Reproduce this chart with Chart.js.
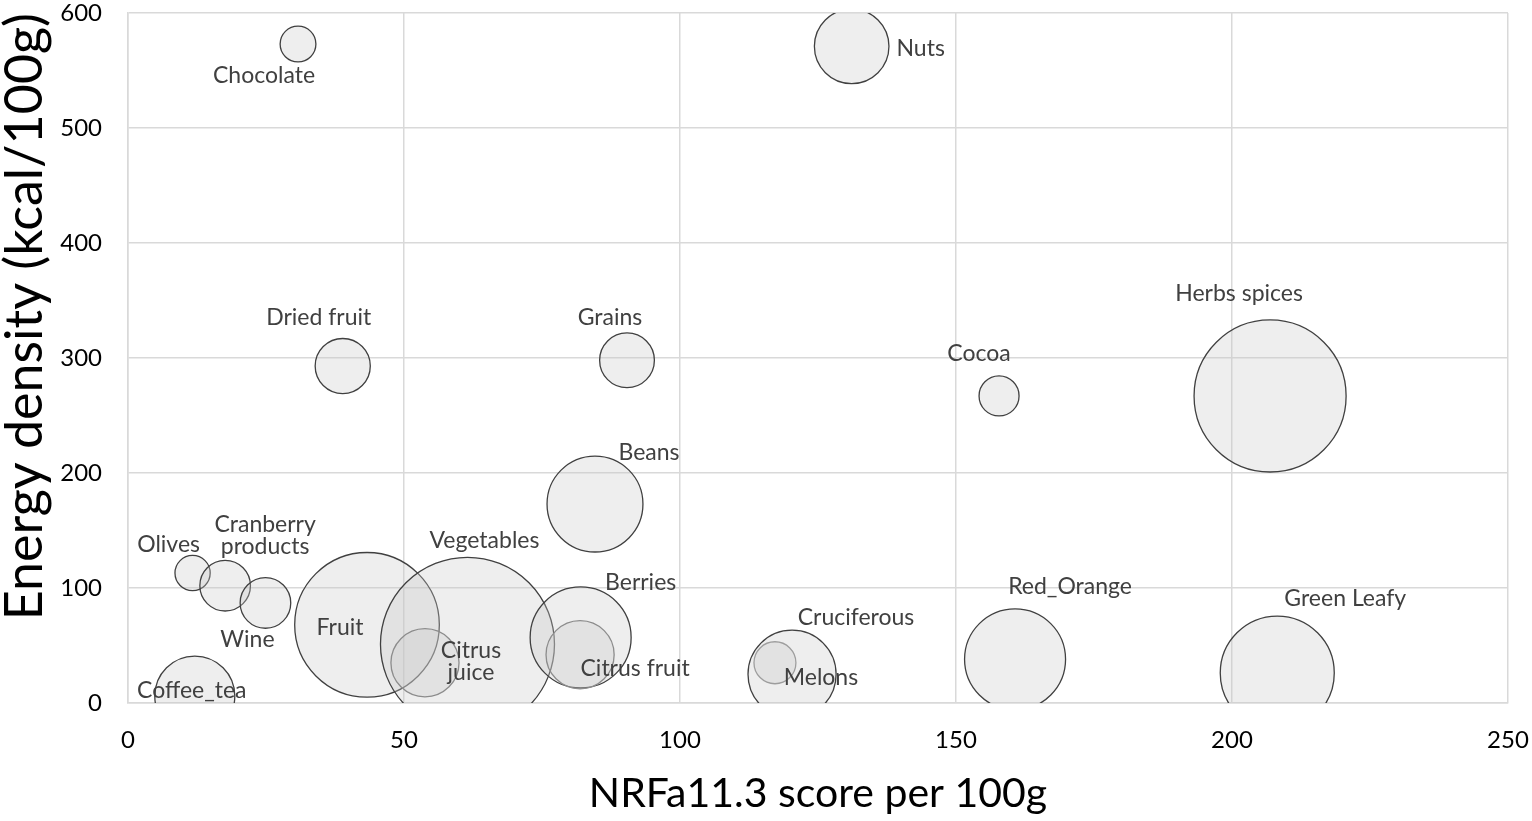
<!DOCTYPE html>
<html>
<head>
<meta charset="utf-8">
<script src="https://cdn.jsdelivr.net/npm/chart.js@4.4.1/dist/chart.umd.min.js"></script>
<style>
  html, body { margin: 0; padding: 0; background: #fff; }
  #wrap { width: 1532px; height: 821px; }
</style>
</head>
<body>
<div id="wrap"><canvas id="nrf"></canvas></div>
<script>
// food groups
const foods = ['Chocolate', 'Nuts', 'Dried fruit', 'Grains', 'Cocoa', 'Herbs spices', 'Beans',
    'Olives', 'Cranberry products', 'Wine', 'Fruit', 'Vegetables', 'Citrus juice', 'Berries',
    'Citrus fruit', 'Coffee_tea', 'Melons', 'Cruciferous', 'Red_Orange', 'Green Leafy'];
// NRFa11.3 score per 100g
const nrfScore = [30.8, 131.1, 38.9, 90.4, 157.8, 206.9, 84.6,
    11.7, 17.6, 24.9, 43.3, 61.5, 53.8, 82.0,
    81.9, 12.1, 117.2, 120.3, 160.7, 208.2];
// energy density kcal/100g
const energy = [573, 571, 293, 298, 267, 267, 173,
    113, 102, 87, 68, 51, 35, 57,
    42, 6, 35, 25, 38, 26];
// bubble size value (area)
const bubbleSize = [3.2, 13.9, 7.6, 7.5, 4.0, 57.8, 23.0,
    3.1, 6.4, 6.4, 52.3, 75.7, 11.6, 25.5,
    11.6, 16.0, 4.4, 19.4, 25.5, 32.5];

const xTicks = [0, 50, 100, 150, 200, 250];
const yTicks = [0, 100, 200, 300, 400, 500, 600];

// where each label sits relative to its bubble (px)
const labelOffset = {
    'Chocolate': [-34, 32], 'Nuts': [69, 2], 'Dried fruit': [-24, -48], 'Grains': [-17, -43],
    'Cocoa': [-20, -42], 'Herbs spices': [-31, -102], 'Beans': [54, -51], 'Olives': [-24, -28],
    'Cranberry products': [40, -50], 'Wine': [-18, 37], 'Fruit': [-27, 3], 'Vegetables': [17, -104],
    'Citrus juice': [46, -1], 'Berries': [60, -55], 'Citrus fruit': [55, 14], 'Coffee_tea': [-3, -6],
    'Melons': [46, 15], 'Cruciferous': [64, -57], 'Red_Orange': [55, -73], 'Green Leafy': [68, -75]
};
const twoLines = { 'Cranberry products': ['Cranberry', 'products'], 'Citrus juice': ['Citrus', 'juice'] };
const lightEdge = ['Citrus juice', 'Citrus fruit', 'Melons'];

const points = foods.map((f, i) => ({ x: nrfScore[i], y: energy[i], r: 10 * Math.sqrt(bubbleSize[i]) }));

const bubbleLabels = {
    id: 'bubbleLabels',
    afterDatasetsDraw(chart) {
        const ctx = chart.ctx;
        const meta = chart.getDatasetMeta(0);
        ctx.save();
        ctx.font = '23px Lato';
        ctx.fillStyle = '#404040';
        ctx.textAlign = 'center';
        ctx.textBaseline = 'middle';
        meta.data.forEach((pt, i) => {
            const name = foods[i];
            const off = labelOffset[name];
            const lines = twoLines[name] || [name];
            const lh = 22;
            lines.forEach((ln, k) => {
                const dy = (k - (lines.length - 1) / 2) * lh;
                ctx.fillText(ln, pt.x + off[0], pt.y + off[1] + dy);
            });
        });
        ctx.restore();
    }
};

// no extra room for first/last tick labels, the plot box is fixed
function noPad(s) {
    s.paddingTop = 0; s.paddingBottom = 0; s.paddingLeft = 0; s.paddingRight = 0;
}

const chart = new Chart(document.getElementById('nrf'), {
    type: 'bubble',
    data: {
        datasets: [{
            data: points,
            backgroundColor: 'rgba(200,200,200,0.3)',
            borderColor: foods.map(f => lightEdge.includes(f) ? '#8c8c8c' : '#404040'),
            borderWidth: 1.3,
            hoverRadius: 0,
            hoverBorderWidth: 1.3
        }]
    },
    options: {
        responsive: true,
        maintainAspectRatio: false,
        animation: false,
        events: [],
        layout: { autoPadding: false, padding: { top: 13, right: 24, left: 0, bottom: 0 } },
        plugins: { legend: { display: false }, tooltip: { enabled: false } },
        scales: {
            x: {
                type: 'linear',
                min: 0, max: 250,
                afterBuildTicks: s => { s.ticks = xTicks.map(v => ({ value: v })); },
                afterFit: s => { s.height = 118; noPad(s); },
                grid: { color: '#d9d9d9', lineWidth: 1.5, drawTicks: false },
                border: { color: '#d9d9d9', width: 1.5 },
                ticks: { color: '#000', font: { family: 'Lato', size: 24 }, padding: 23, maxRotation: 0 },
                title: {
                    display: true, text: 'NRFa11.3 score per 100g', color: '#000',
                    font: { family: 'Lato', size: 41 }, padding: { top: 0, bottom: 3 }
                }
            },
            y: {
                type: 'linear',
                min: 0, max: 600,
                afterBuildTicks: s => { s.ticks = yTicks.map(v => ({ value: v })); },
                afterFit: s => { s.width = 128; noPad(s); },
                grid: { color: '#d9d9d9', lineWidth: 1.5, drawTicks: false },
                border: { color: '#d9d9d9', width: 1.5 },
                ticks: { color: '#000', font: { family: 'Lato', size: 24 }, padding: 26 },
                title: {
                    display: true, text: 'Energy density (kcal/100g)', color: '#000', align: 'end',
                    font: { family: 'Lato', size: 52, lineHeight: 1 }, padding: { top: -1, bottom: 0 }
                }
            }
        }
    },
    plugins: [bubbleLabels]
});
</script>
</body>
</html>
